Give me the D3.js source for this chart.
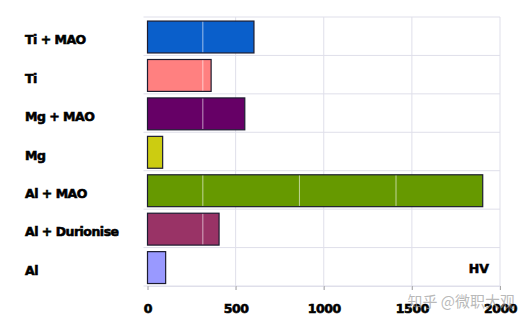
<!DOCTYPE html>
<html>
<head>
<meta charset="utf-8">
<script src="https://cdn.jsdelivr.net/npm/d3@7"></script>
<style>
  html, body { margin: 0; padding: 0; background: #fff; }
  svg { display: block; }
</style>
</head>
<body>
<svg id="chart" width="530" height="328"></svg>
<script>
// Surface hardness (HV) of treated and untreated alloys
const categories = ["Ti + MAO", "Ti", "Mg + MAO", "Mg", "Al + MAO", "Al + Durionise", "Al"];
const hardness   = [604, 361, 552, 86, 1902, 406, 103];
const barColors  = ["#0a5fcb", "#ff8080", "#660066", "#cccc11", "#669900", "#993366", "#9999ff"];
const xTicks     = [0, 500, 1000, 1500, 2000];
// faint inner gridlines that show through the filled bars
const innerGrid  = [314, 862, 1410];

const svg = d3.select("#chart");
const W = 530, H = 328;
const margin = { top: 17, right: 30, bottom: 42, left: 147.5 };
const plotW = W - margin.left - margin.right;
const plotH = H - margin.top - margin.bottom;

svg.append("rect").attr("width", W).attr("height", H).attr("fill", "#fff");

const x = d3.scaleLinear().domain([0, 2000]).range([0, plotW]);
const y = d3.scaleBand().domain(categories).range([0, plotH]).paddingInner(0.17).paddingOuter(0.085);
const band = d3.scaleBand().domain(categories).range([0, plotH]);

const g = svg.append("g").attr("transform", `translate(${margin.left},${margin.top})`);

const gridColor = "#dfdfea";

// horizontal lines between categories
const bounds = d3.range(categories.length + 1).map(i => i * band.step());
g.selectAll("line.hgrid").data(bounds).join("line")
  .attr("class", "hgrid")
  .attr("x1", -4).attr("x2", plotW)
  .attr("y1", d => d).attr("y2", d => d)
  .attr("stroke", gridColor).attr("stroke-width", 1);

// vertical value gridlines
g.selectAll("line.vgrid").data(xTicks.slice(1)).join("line")
  .attr("class", "vgrid")
  .attr("x1", d => x(d)).attr("x2", d => x(d))
  .attr("y1", 0).attr("y2", plotH + 4)
  .attr("stroke", gridColor).attr("stroke-width", 1);

// bars
const bars = g.selectAll("g.bar").data(categories.map((c, i) => ({ c, v: hardness[i], col: barColors[i] })))
  .join("g").attr("class", "bar");

bars.append("rect")
  .attr("x", x(0))
  .attr("y", d => y(d.c) + 0.8)
  .attr("width", d => x(d.v) - x(0))
  .attr("height", y.bandwidth())
  .attr("fill", d => d.col)
  .attr("stroke", "#1c1c30")
  .attr("stroke-width", 1.2);

bars.each(function(d) {
  d3.select(this).selectAll("line").data(innerGrid.filter(v => v < d.v)).join("line")
    .attr("x1", v => x(v)).attr("x2", v => x(v))
    .attr("y1", y(d.c) + 1.5).attr("y2", y(d.c) + y.bandwidth())
    .attr("stroke", "#ffffff").attr("stroke-opacity", 0.6).attr("stroke-width", 1);
});

const textStyle = sel => sel
  .attr("fill", "#000")
  .attr("stroke", "#000").attr("stroke-width", 0.6)
  .style("font-family", "'DejaVu Sans', sans-serif")
  .style("font-weight", "bold")
  .style("font-size", "12.5px");

// bottom axis
const xAxis = d3.axisBottom(x).tickValues(xTicks).tickSize(4).tickPadding(14).tickFormat(d3.format("d"));
const ax = g.append("g").attr("transform", `translate(0,${plotH})`).call(xAxis);
ax.select(".domain").attr("stroke", gridColor);
ax.selectAll(".tick line").attr("stroke", "#aaa");
ax.selectAll(".tick text").call(textStyle).style("letter-spacing", "-0.4px");

// category labels
svg.append("g").selectAll("text").data(categories).join("text")
  .attr("x", 25)
  .attr("y", d => margin.top + band(d) + band.step() / 2 + 8)
  .text(d => d)
  .call(textStyle)
  .style("letter-spacing", "-0.5px");

// unit label
g.append("text")
  .attr("x", x(2000) - 11)
  .attr("y", band(categories[categories.length - 1]) + band.step() / 2 + 6)
  .attr("text-anchor", "end")
  .text("HV")
  .call(textStyle);

// source mark
svg.append("text")
  .attr("x", 515).attr("y", 307)
  .attr("text-anchor", "end")
  .text("知乎 @微职大观")
  .attr("fill", "#9a9a9a").attr("fill-opacity", 0.7)
  .style("font-family", "'Noto Sans CJK SC', sans-serif")
  .style("font-size", "15px");
</script>
</body>
</html>
